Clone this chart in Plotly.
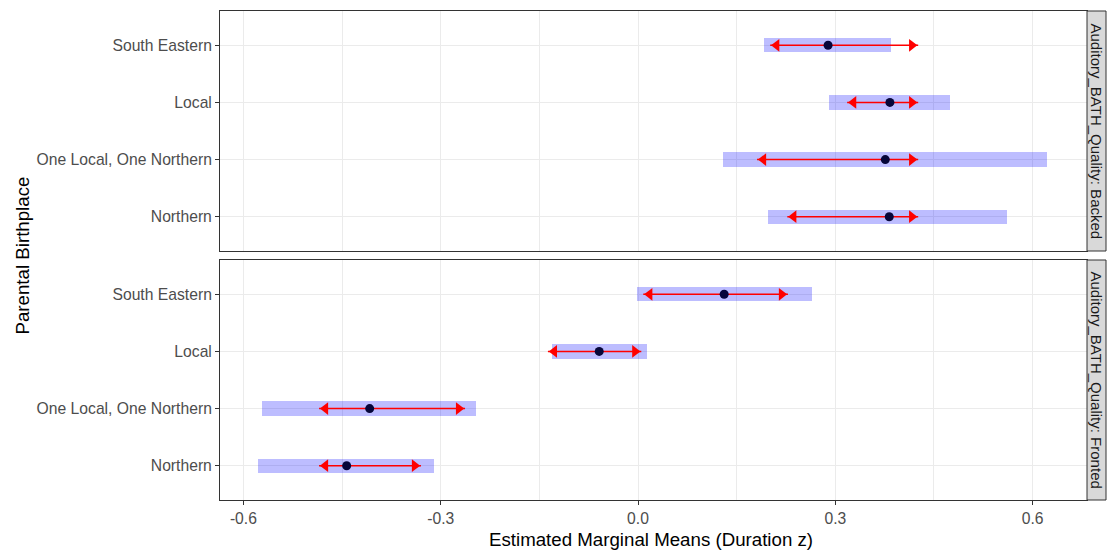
import plotly.graph_objects as go

# ---------------- data ----------------
categories = ["South Eastern", "Local", "One Local, One Northern", "Northern"]
panels = ["Auditory_BATH_Quality: Backed", "Auditory_BATH_Quality: Fronted"]

backed_emmean = [0.289, 0.383, 0.376, 0.382]
backed_ci_lo = [0.192, 0.290, 0.129, 0.198]
backed_ci_hi = [0.385, 0.474, 0.622, 0.561]
backed_cmp_lo = [0.201, 0.318, 0.181, 0.227]
backed_cmp_hi = [0.426, 0.426, 0.426, 0.426]

fronted_emmean = [0.131, -0.059, -0.408, -0.443]
fronted_ci_lo = [-0.002, -0.131, -0.572, -0.578]
fronted_ci_hi = [0.265, 0.014, -0.246, -0.310]
fronted_cmp_lo = [0.008, -0.137, -0.485, -0.485]
fronted_cmp_hi = [0.228, 0.005, -0.263, -0.330]

x_ticks = [-0.6, -0.3, 0.0, 0.3, 0.6]
x_ticktext = ["-0.6", "-0.3", "0.0", "0.3", "0.6"]

# ---------------- styling ----------------
FONT = "Liberation Sans, Arial, sans-serif"
BAR_COLOR = "rgba(0,0,255,0.26)"
ARROW_COLOR = "#FF0000"
POINT_COLOR = "#06063a"
GRID = "#EBEBEB"
BORDER = "#333333"
TICK_FONT = dict(family=FONT, size=15.7, color="#4D4D4D")
TITLE_FONT = dict(family=FONT, size=18.7, color="#000000")

W, H = 1108, 551
ML, MR, MT, MB = 220, 21, 11, 51
plot_h = H - MT - MB
plot_w = W - ML - MR


def py(px):
    return (H - MB - px) / plot_h


def pxx(px):
    return (px - ML) / plot_w


domains = [[py(251), 1.0], [0.0, py(260)]]

fig = go.Figure()

data = [
    (backed_emmean, backed_ci_lo, backed_ci_hi, backed_cmp_lo, backed_cmp_hi),
    (fronted_emmean, fronted_ci_lo, fronted_ci_hi, fronted_cmp_lo, fronted_cmp_hi),
]

ARROW_SIZE = 11
for i, (em, lo, hi, clo, chi) in enumerate(data):
    xa = "x" if i == 0 else "x2"
    ya = "y" if i == 0 else "y2"
    # confidence interval bars
    fig.add_trace(go.Bar(
        y=categories, x=[h - l for l, h in zip(lo, hi)], base=lo,
        orientation="h", width=0.25, marker=dict(color=BAR_COLOR, line=dict(width=0)),
        xaxis=xa, yaxis=ya, showlegend=False, hoverinfo="skip",
    ))
    # comparison arrows
    ax, ay, ang = [], [], []
    for c, a, b in zip(categories, clo, chi):
        ax += [a, b, None]
        ay += [c, c, None]
        ang += [-90, 90, 0]
    fig.add_trace(go.Scatter(
        x=ax, y=ay, mode="lines+markers",
        line=dict(color=ARROW_COLOR, width=1.5, backoff=0),
        marker=dict(symbol="triangle-up", size=ARROW_SIZE, angle=ang,
                    standoff=ARROW_SIZE * 0.577, color=ARROW_COLOR, line=dict(width=0)),
        xaxis=xa, yaxis=ya, showlegend=False, hoverinfo="skip",
    ))
    # estimated marginal means
    fig.add_trace(go.Scatter(
        x=em, y=categories, mode="markers",
        marker=dict(color=POINT_COLOR, size=9, line=dict(width=0)),
        xaxis=xa, yaxis=ya, showlegend=False, hoverinfo="skip",
    ))

xcommon = dict(
    range=[-0.6356, 0.6827], tickvals=x_ticks, ticktext=x_ticktext,
    showgrid=True, gridcolor=GRID, gridwidth=1,
    minor=dict(dtick=0.15, tick0=0.15, showgrid=True, gridcolor=GRID, gridwidth=0.5, ticks=""),
    zeroline=False, showline=True, mirror=True, linecolor=BORDER, linewidth=1,
    tickfont=TICK_FONT,
)
ycommon = dict(
    type="category", categoryorder="array", categoryarray=categories[::-1],
    range=[-0.6, 3.6], showgrid=True, gridcolor=GRID, gridwidth=1,
    zeroline=False, showline=True, mirror=True, linecolor=BORDER, linewidth=1,
    ticks="outside", ticklen=4, tickcolor=BORDER, tickwidth=1, tickfont=TICK_FONT,
)

fig.update_layout(
    width=W, height=H,
    margin=dict(l=ML, r=MR, t=MT, b=MB),
    paper_bgcolor="white", plot_bgcolor="white",
    barmode="overlay", bargap=0,
    font=dict(family=FONT),
    xaxis=dict(**xcommon, domain=[0, 1], anchor="y", showticklabels=False, ticks="", matches="x2"),
    xaxis2=dict(**xcommon, domain=[0, 1], anchor="y2", ticks="outside", ticklen=4,
                tickcolor=BORDER, tickwidth=1),
    yaxis=dict(**ycommon, domain=domains[0], anchor="x"),
    yaxis2=dict(**ycommon, domain=domains[1], anchor="x2"),
)

# facet strips
shapes, annotations = [], []
for i, name in enumerate(panels):
    yref = "y domain" if i == 0 else "y2 domain"
    shapes.append(dict(type="rect", xref="paper", yref=yref,
                       x0=1.0, x1=pxx(1106), y0=0, y1=1,
                       fillcolor="#D9D9D9", line=dict(color=BORDER, width=1), layer="above"))
    annotations.append(dict(text=name, xref="paper", yref=yref,
                            x=(1.0 + pxx(1106)) / 2, y=0.5, textangle=90,
                            showarrow=False, xanchor="center", yanchor="middle",
                            font=dict(family=FONT, size=15, color="#1A1A1A")))

annotations.append(dict(text="Estimated Marginal Means (Duration z)", xref="paper", yref="paper",
                        x=pxx(651), y=py(539), showarrow=False, xanchor="center", yanchor="middle",
                        font=TITLE_FONT))
annotations.append(dict(text="Parental Birthplace", xref="paper", yref="paper",
                        x=pxx(22), y=py(255.5), textangle=-90, showarrow=False,
                        xanchor="center", yanchor="middle", font=TITLE_FONT))

fig.update_layout(shapes=shapes, annotations=annotations)

fig.write_html("out.html", config={"displayModeBar": False},
               post_script="document.body.style.margin='0';document.body.style.overflow='hidden';")
